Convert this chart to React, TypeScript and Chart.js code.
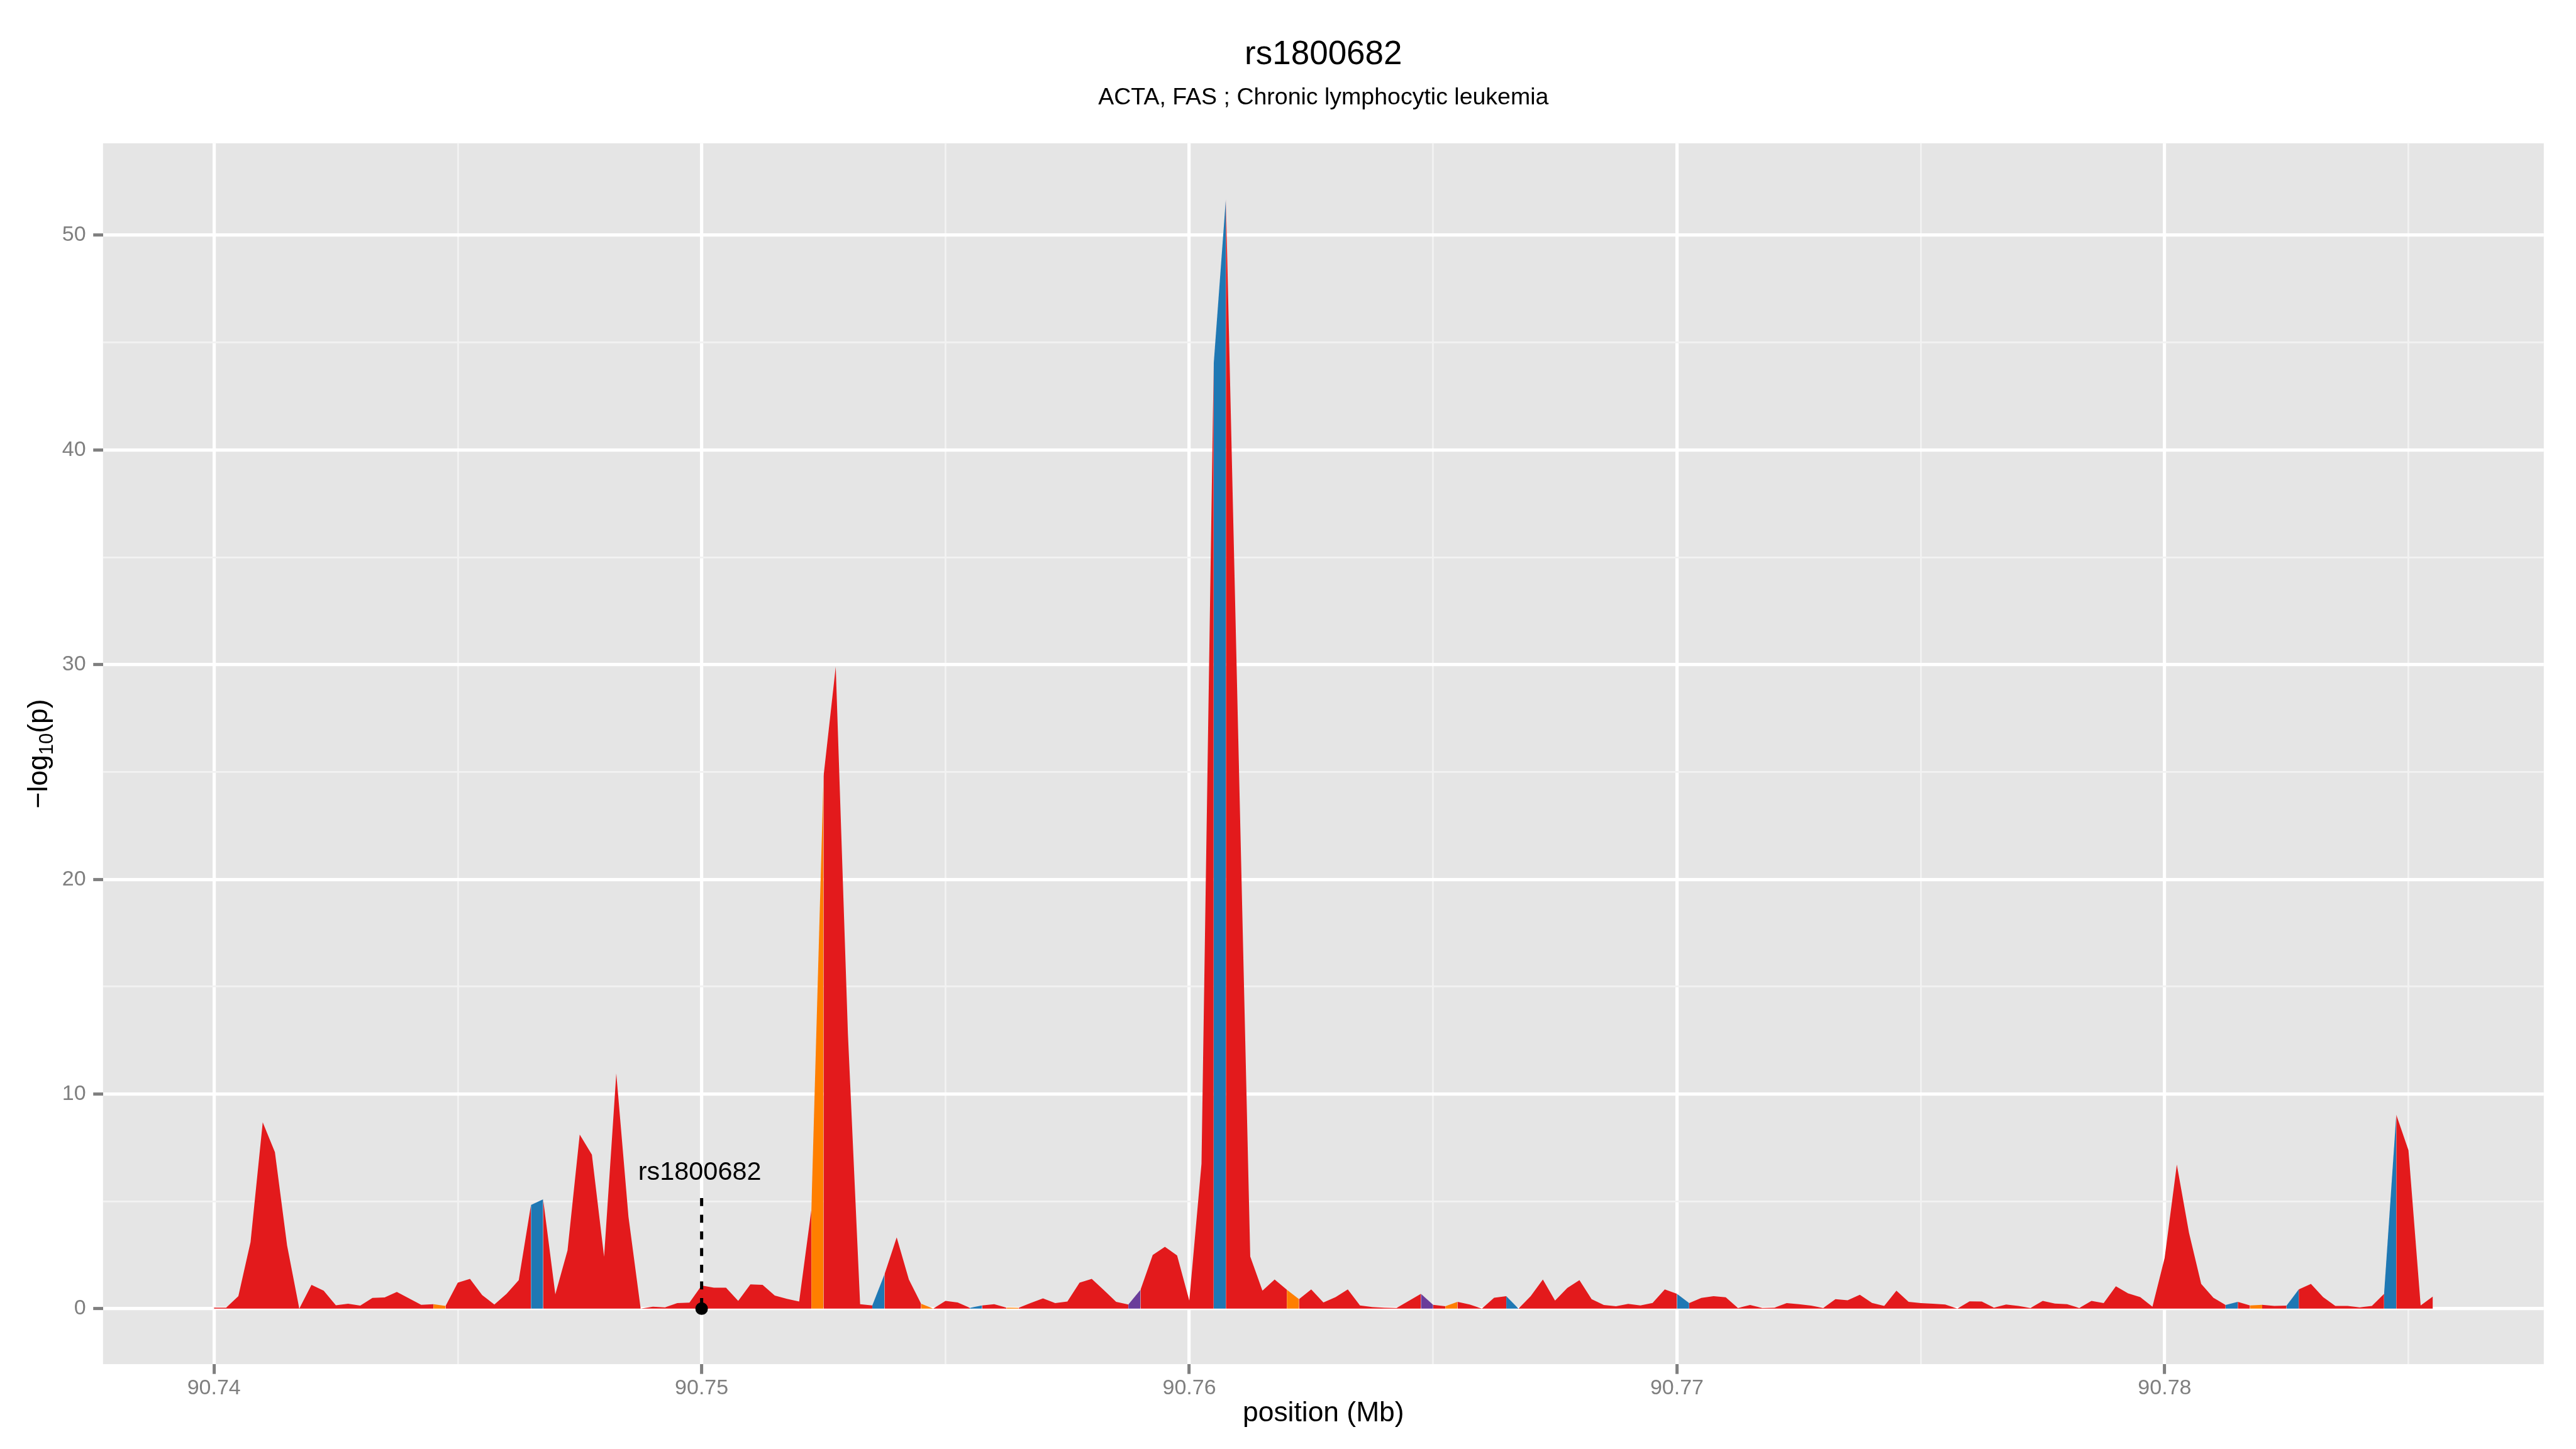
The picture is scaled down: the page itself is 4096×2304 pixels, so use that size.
import React, { useEffect, useRef } from "react";
import { Chart, registerables } from "chart.js";

Chart.register(...registerables);

// ---------------- data ----------------
const positionMb: number[] = [
  90.74, 90.74025, 90.7405, 90.74075, 90.741, 90.74125, 90.7415, 90.74175,
  90.742, 90.74225, 90.7425, 90.74275, 90.743, 90.74325, 90.7435, 90.74375,
  90.744, 90.74425, 90.7445, 90.74475, 90.745, 90.74525, 90.7455, 90.74575,
  90.746, 90.74625, 90.7465, 90.74675, 90.747, 90.74725, 90.7475, 90.74775,
  90.748, 90.74825, 90.7485, 90.74875, 90.749, 90.74925, 90.7495, 90.74975,
  90.75, 90.75025, 90.7505, 90.75075, 90.751, 90.75125, 90.7515, 90.75175,
  90.752, 90.75225, 90.7525, 90.75275, 90.753, 90.75325, 90.7535, 90.75375,
  90.754, 90.75425, 90.7545, 90.75475, 90.755, 90.75525, 90.7555, 90.75575,
  90.756, 90.75625, 90.7565, 90.75675, 90.757, 90.75725, 90.7575, 90.75775,
  90.758, 90.75825, 90.7585, 90.75875, 90.759, 90.75925, 90.7595, 90.75975,
  90.76, 90.76025, 90.7605, 90.76075, 90.761, 90.76125, 90.7615, 90.76175,
  90.762, 90.76225, 90.7625, 90.76275, 90.763, 90.76325, 90.7635, 90.76375,
  90.764, 90.76425, 90.7645, 90.76475, 90.765, 90.76525, 90.7655, 90.76575,
  90.766, 90.76625, 90.7665, 90.76675, 90.767, 90.76725, 90.7675, 90.76775,
  90.768, 90.76825, 90.7685, 90.76875, 90.769, 90.76925, 90.7695, 90.76975,
  90.77, 90.77025, 90.7705, 90.77075, 90.771, 90.77125, 90.7715, 90.77175,
  90.772, 90.77225, 90.7725, 90.77275, 90.773, 90.77325, 90.7735, 90.77375,
  90.774, 90.77425, 90.7745, 90.77475, 90.775, 90.77525, 90.7755, 90.77575,
  90.776, 90.77625, 90.7765, 90.77675, 90.777, 90.77725, 90.7775, 90.77775,
  90.778, 90.77825, 90.7785, 90.77875, 90.779, 90.77925, 90.7795, 90.77975,
  90.78, 90.78025, 90.7805, 90.78075, 90.781, 90.78125, 90.7815, 90.78175,
  90.782, 90.78225, 90.7825, 90.78275, 90.783, 90.78325, 90.7835, 90.78375,
  90.784, 90.78425, 90.7845, 90.78475, 90.785, 90.78525, 90.7855,
];

const log10p: number[] = [
  0.05, 0.05, 0.58, 3.1, 8.68, 7.29, 2.94, 0.0, 1.11, 0.84,
  0.16, 0.23, 0.14, 0.5, 0.52, 0.78, 0.48, 0.18, 0.21, 0.13,
  1.21, 1.39, 0.63, 0.19, 0.69, 1.33, 4.83, 5.09, 0.67, 2.71,
  8.11, 7.17, 2.42, 10.96, 4.28, 0.0, 0.09, 0.06, 0.26, 0.28,
  1.08, 0.98, 0.98, 0.36, 1.13, 1.11, 0.61, 0.46, 0.33, 4.6,
  24.8, 29.9, 12.8, 0.21, 0.15, 1.6, 3.32, 1.36, 0.23, 0.0,
  0.36, 0.29, 0.04, 0.15, 0.21, 0.05, 0.04, 0.27, 0.48, 0.26,
  0.33, 1.21, 1.39, 0.86, 0.32, 0.19, 0.88, 2.5, 2.88, 2.48,
  0.38, 6.75, 44.0, 51.7, 27.0, 2.43, 0.84, 1.36, 0.88, 0.44,
  0.9, 0.29, 0.54, 0.9, 0.15, 0.08, 0.05, 0.03, 0.36, 0.69,
  0.18, 0.11, 0.32, 0.19, 0.0, 0.51, 0.58, 0.0, 0.58, 1.36,
  0.38, 0.96, 1.33, 0.44, 0.17, 0.11, 0.22, 0.15, 0.27, 0.9,
  0.69, 0.26, 0.5, 0.58, 0.53, 0.03, 0.17, 0.03, 0.05, 0.26,
  0.21, 0.14, 0.03, 0.44, 0.39, 0.65, 0.27, 0.13, 0.84, 0.32,
  0.26, 0.23, 0.19, 0.0, 0.34, 0.33, 0.05, 0.19, 0.13, 0.03,
  0.36, 0.24, 0.21, 0.03, 0.36, 0.26, 1.04, 0.71, 0.54, 0.09,
  2.36, 6.71, 3.53, 1.15, 0.51, 0.17, 0.32, 0.15, 0.18, 0.13,
  0.14, 0.9, 1.15, 0.54, 0.13, 0.13, 0.06, 0.13, 0.69, 9.03,
  7.38, 0.15, 0.57,
];

// interval start indices (segment i -> i+1) with non-red fill
const blueSegments: number[] = [26, 54, 62, 82, 106, 120, 165, 170, 178];
const orangeSegments: number[] = [18, 49, 58, 65, 88, 101, 167];
const purpleSegments: number[] = [75, 99];

const xMajorTicks: number[] = [90.74, 90.75, 90.76, 90.77, 90.78];
const xMajorLabels: string[] = ["90.74", "90.75", "90.76", "90.77", "90.78"];
const xMinorTicks: number[] = [90.745, 90.755, 90.765, 90.775, 90.785];
const yMajorTicks: number[] = [0, 10, 20, 30, 40, 50];
const yMajorLabels: string[] = ["0", "10", "20", "30", "40", "50"];
const yMinorTicks: number[] = [5, 15, 25, 35, 45];

const titleText = "rs1800682";
const subtitleText = "ACTA, FAS ; Chronic lymphocytic leukemia";
const xTitleText = "position (Mb)";
const leadSnpName = "rs1800682";
const leadSnpPos = 90.75;
const leadLabelY = 6.0;
const leadDashTop = 5.15;

// ---------------- styling ----------------
const RED = "#E31A1C";
const BLUE = "#1F78B4";
const ORANGE = "#FF7F00";
const PURPLE = "#6A3D9A";
const FONT = '"Liberation Sans", Arial, Helvetica, sans-serif';
const W = 4096;
const H = 2304;
const PANEL_LEFT = 163.8;
const PANEL_RIGHT = 4044.8;
const PANEL_TOP = 227.8;
const PANEL_BOTTOM = 2169.1;

const segColor = (i: number) =>
  blueSegments.includes(i)
    ? BLUE
    : orangeSegments.includes(i)
    ? ORANGE
    : purpleSegments.includes(i)
    ? PURPLE
    : RED;

const near = (v: number, arr: number[]) => arr.findIndex((m) => Math.abs(m - v) < 1e-7);

const xSpan = positionMb[positionMb.length - 1] - positionMb[0];
const xMin = positionMb[0] - 0.05 * xSpan;
const xMax = positionMb[positionMb.length - 1] + 0.05 * xSpan;
const yTop = Math.max(...log10p);
const yMin = -0.05 * yTop;
const yMax = yTop * 1.05;

const panelBg = {
  id: "panelBg",
  beforeDraw(chart: any) {
    const { ctx, chartArea } = chart;
    ctx.save();
    ctx.fillStyle = "#E5E5E5";
    ctx.fillRect(chartArea.left, chartArea.top, chartArea.right - chartArea.left, chartArea.bottom - chartArea.top);
    ctx.restore();
  },
};

const texts = {
  id: "texts",
  afterDraw(chart: any) {
    const { ctx, chartArea, scales } = chart;
    const cx = (chartArea.left + chartArea.right) / 2;
    ctx.save();
    ctx.fillStyle = "#000000";
    ctx.textAlign = "center";
    ctx.textBaseline = "alphabetic";
    ctx.font = `53px ${FONT}`;
    ctx.fillText(titleText, cx, 101.5);
    ctx.font = `37.5px ${FONT}`;
    ctx.fillText(subtitleText, cx, 165.5);
    ctx.font = `44.4px ${FONT}`;
    ctx.fillText(xTitleText, cx, 2260);

    // annotation label
    ctx.font = `41.4px ${FONT}`;
    ctx.fillText(leadSnpName, scales.x.getPixelForValue(leadSnpPos) - 3, scales.y.getPixelForValue(leadLabelY));

    // y title: −log10(p)
    ctx.translate(75, (chartArea.top + chartArea.bottom) / 2);
    ctx.rotate(-Math.PI / 2);
    const main = `44.4px ${FONT}`;
    const sub = `31px ${FONT}`;
    ctx.textAlign = "left";
    ctx.font = main;
    const w1 = ctx.measureText("\u2212log").width;
    const w3 = ctx.measureText("(p)").width;
    ctx.font = sub;
    const w2 = ctx.measureText("10").width;
    const x0 = -(w1 + w2 + w3) / 2;
    ctx.font = main;
    ctx.fillText("\u2212log", x0, 0);
    ctx.font = sub;
    ctx.fillText("10", x0 + w1, 9);
    ctx.font = main;
    ctx.fillText("(p)", x0 + w1 + w2, 0);
    ctx.restore();
  },
};

function gridOpts(majors: number[]) {
  return {
    color: (c: any) => (c.tick && near(c.tick.value, majors) >= 0 ? "#FFFFFF" : "#F2F2F2"),
    lineWidth: (c: any) => (c.tick && near(c.tick.value, majors) >= 0 ? 5.2 : 2.8),
    tickColor: (c: any) => (c.tick && near(c.tick.value, majors) >= 0 ? "#7F7F7F" : "rgba(0,0,0,0)"),
    tickWidth: 5,
    tickLength: 15.6,
    drawTicks: true,
    drawOnChartArea: true,
  };
}

export default function App() {
  const ref = useRef<HTMLCanvasElement>(null);

  useEffect(() => {
    document.body.style.margin = "0";
    const areaData = positionMb.map((x, i) => ({ x, y: log10p[i] }));
    const chart = new Chart(ref.current as HTMLCanvasElement, {
      type: "line",
      data: {
        datasets: [
          {
            type: "scatter",
            data: [{ x: leadSnpPos, y: 0 }],
            pointRadius: 10,
            pointBackgroundColor: "#000000",
            pointBorderWidth: 0,
            order: 0,
          } as any,
          {
            type: "line",
            data: [
              { x: leadSnpPos, y: leadDashTop },
              { x: leadSnpPos, y: 0 },
            ],
            borderColor: "#000000",
            borderWidth: 5,
            borderDash: [12.8, 13.7],
            pointRadius: 0,
            fill: false,
            order: 1,
          } as any,
          {
            type: "line",
            data: areaData,
            fill: "origin",
            backgroundColor: RED,
            borderColor: RED,
            borderWidth: 0,
            pointRadius: 0,
            tension: 0,
            order: 2,
            segment: {
              backgroundColor: (c: any) => segColor(c.p0DataIndex),
            },
          } as any,
        ],
      },
      options: {
        responsive: false,
        animation: false,
        devicePixelRatio: 1,
        events: [],
        layout: { padding: { left: 0, top: PANEL_TOP, right: W - PANEL_RIGHT, bottom: 0 } },
        plugins: {
          legend: { display: false },
          tooltip: { enabled: false },
          title: { display: false },
        },
        scales: {
          x: {
            type: "linear",
            min: xMin,
            max: xMax,
            border: { display: false },
            grid: gridOpts(xMajorTicks) as any,
            afterBuildTicks: (s: any) => {
              s.ticks = [...xMajorTicks, ...xMinorTicks].sort((a, b) => a - b).map((v) => ({ value: v }));
            },
            afterFit: (s: any) => {
              s.height = H - PANEL_BOTTOM;
            },
            ticks: {
              autoSkip: false,
              maxRotation: 0,
              minRotation: 0,
              padding: 2.3,
              color: "#7F7F7F",
              font: { family: FONT, size: 34 },
              callback: (v: any) => {
                const k = near(Number(v), xMajorTicks);
                return k >= 0 ? xMajorLabels[k] : "";
              },
            },
          },
          y: {
            type: "linear",
            min: yMin,
            max: yMax,
            border: { display: false },
            grid: gridOpts(yMajorTicks) as any,
            afterBuildTicks: (s: any) => {
              s.ticks = [...yMajorTicks, ...yMinorTicks].sort((a, b) => a - b).map((v) => ({ value: v }));
            },
            afterFit: (s: any) => {
              s.width = PANEL_LEFT;
            },
            ticks: {
              autoSkip: false,
              padding: 11.6,
              color: "#7F7F7F",
              font: { family: FONT, size: 34 },
              callback: (v: any) => {
                const k = near(Number(v), yMajorTicks);
                return k >= 0 ? yMajorLabels[k] : "";
              },
            },
          },
        },
      },
      plugins: [panelBg, texts],
    });
    return () => chart.destroy();
  }, []);

  return (
    <div style={{ position: "absolute", left: 0, top: 0, width: W, height: H }}>
      <canvas ref={ref} width={W} height={H} style={{ display: "block", width: W, height: H }} />
    </div>
  );
}
